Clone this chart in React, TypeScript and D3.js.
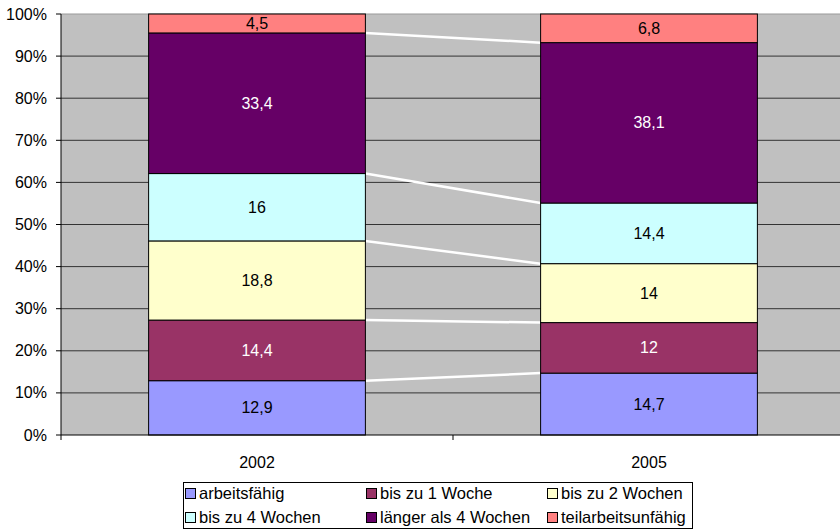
import React from "react";
import * as d3 from "d3";

const categories = ["2002", "2005"];
const seriesNames = [
  "arbeitsfähig",
  "bis zu 1 Woche",
  "bis zu 2 Wochen",
  "bis zu 4 Wochen",
  "länger als 4 Wochen",
  "teilarbeitsunfähig",
];
const values2002 = [12.9, 14.4, 18.8, 16, 33.4, 4.5];
const values2005 = [14.7, 12, 14, 14.4, 38.1, 6.8];
const labels2002 = ["12,9", "14,4", "18,8", "16", "33,4", "4,5"];
const labels2005 = ["14,7", "12", "14", "14,4", "38,1", "6,8"];
const colors = ["#9999FF", "#993366", "#FFFFCC", "#CCFFFF", "#660066", "#FF8080"];
const labelColors = ["#000", "#fff", "#000", "#000", "#fff", "#000"];
const yTicks = [0, 10, 20, 30, 40, 50, 60, 70, 80, 90, 100];

export default function App() {
  const W = 840, H = 531;
  const left = 61, right = 845, top = 14, bottom = 435;
  const x = d3.scaleBand<string>().domain(categories).range([left, right]).paddingInner(0).paddingOuter(0);
  const barW = x.bandwidth() * 0.553;
  const y = d3.scaleLinear().domain([0, 100]).range([bottom, top]);
  const allVals = [values2002, values2005];
  const allLabels = [labels2002, labels2005];
  const stacks = allVals.map((vals) => {
    let c = 0;
    return vals.map((v) => { const s = c; c += v; return [s, c]; });
  });
  const font = "'Liberation Sans', Arial, sans-serif";
  const barX = (i: number) => (x(categories[i]) as number) + x.bandwidth() / 2 - barW / 2;

  const legendCols = [186, 367, 548];
  const legendRows = [499, 523];

  return (
    <svg width={W} height={H} style={{ position: "absolute", left: 0, top: 0 }} fontFamily={font}>
      <rect x={left} y={top} width={right - left} height={bottom - top} fill="#C0C0C0" />
      {yTicks.map((t) => (
        <g key={t}>
          {t > 0 && t < 100 && <line x1={left} x2={right} y1={y(t)} y2={y(t)} stroke="#333" strokeWidth={1} />}
          {t === 100 && <line x1={left} x2={right} y1={y(t)} y2={y(t)} stroke="#999" strokeWidth={1} />}
          <line x1={left - 5} x2={left} y1={y(t)} y2={y(t)} stroke="#000" />
          <text x={47} y={y(t) + 5.5} textAnchor="end" fontSize={16} fill="#000">{t}%</text>
        </g>
      ))}
      {[0, 1, 2, 3, 4].map((k) => (
        <line key={k} x1={barX(0) + barW} y1={y(stacks[0][k][1])} x2={barX(1)} y2={y(stacks[1][k][1])} stroke="#fff" strokeWidth={2.5} />
      ))}
      {stacks.map((st, i) => (
        <g key={i}>
          {st.map(([a, b], k) => (
            <g key={k}>
              <rect x={barX(i)} y={y(b)} width={barW} height={y(a) - y(b)} fill={colors[k]} stroke="#000" strokeWidth={1} />
              <text x={barX(i) + barW / 2} y={(y(a) + y(b)) / 2 + 5.5} textAnchor="middle" fontSize={16} fill={labelColors[k]}>{allLabels[i][k]}</text>
            </g>
          ))}
        </g>
      ))}
      <line x1={left} x2={left} y1={top} y2={bottom} stroke="#000" />
      <line x1={left} x2={right} y1={bottom} y2={bottom} stroke="#000" />
      {[left, left + x.bandwidth()].map((tx) => (
        <line key={tx} x1={tx} x2={tx} y1={bottom} y2={bottom + 5} stroke="#000" />
      ))}
      {categories.map((c) => (
        <text key={c} x={(x(c) as number) + x.bandwidth() / 2} y={468} textAnchor="middle" fontSize={16} fill="#000">{c}</text>
      ))}
      <rect x={183.5} y={482.5} width={509} height={46} fill="#fff" stroke="#000" />
      {seriesNames.map((n, k) => {
        const cx = legendCols[k % 3];
        const cy = legendRows[Math.floor(k / 3)];
        return (
          <g key={n}>
            <rect x={cx - 0.5} y={cy - 10.5} width={10} height={10} fill={colors[k]} stroke="#000" />
            <text x={cx + 13} y={cy} fontSize={16.5} fill="#000">{n}</text>
          </g>
        );
      })}
    </svg>
  );
}
